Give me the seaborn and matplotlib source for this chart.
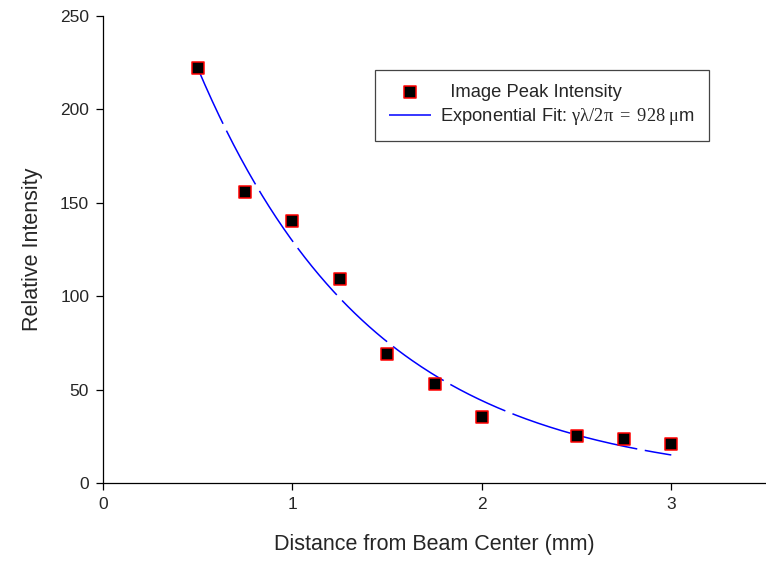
import numpy as np
import pandas as pd
import matplotlib
matplotlib.use("Agg")
import matplotlib.pyplot as plt
import seaborn as sns

# Measured peak intensity versus distance from the beam center
distance_mm = [0.5, 0.75, 1.0, 1.25, 1.5, 1.75, 2.0, 2.5, 2.75, 3.0]
intensity = [222.2, 155.8, 140.3, 109.2, 69.0, 53.0, 35.3, 25.2, 23.5, 20.9]

# Exponential fit parameters: I(x) = amplitude * exp(-x / decay_length)
fit_amplitude = 380.6
decay_length_mm = 0.928

sns.set_style("ticks")
plt.rcParams["font.family"] = ["Liberation Sans", "DejaVu Sans"]
plt.rcParams["mathtext.fontset"] = "custom"
plt.rcParams["mathtext.rm"] = "Liberation Serif"
plt.rcParams["mathtext.it"] = "Liberation Serif:italic"

fig = plt.figure(figsize=(7.66, 5.61), dpi=100)
ax = fig.add_axes([0.1345, 0.139, 0.8655, 0.8325])

fit_x = np.linspace(distance_mm[0], distance_mm[-1], 200)
fit_df = pd.DataFrame({"x": fit_x,
                       "y": fit_amplitude * np.exp(-fit_x / decay_length_mm)})
data_df = pd.DataFrame({"x": distance_mm, "y": intensity})

sns.lineplot(data=fit_df, x="x", y="y", ax=ax, color="#0000ff", linewidth=1.1,
             dashes=False,
             label=r"Exponential Fit: $\mathrm{\gamma\lambda/2\pi\ =\ 928\ \mu}$m",
             zorder=2)
ax.lines[-1].set_dashes([40, 5])
sns.scatterplot(data=data_df, x="x", y="y", ax=ax, marker="s", s=70,
                color="black", edgecolor="#ff0000", linewidth=1.1,
                label="  Image Peak Intensity", zorder=3)

ax.set_xlim(0, 3.5)
ax.set_ylim(0, 250)
ax.set_xticks([0, 1, 2, 3])
ax.set_yticks([0, 50, 100, 150, 200, 250])
ax.tick_params(axis="both", labelsize=12.5, length=5, width=0.9, color="black",
               direction="out", pad=5)
ax.spines["top"].set_visible(False)
ax.spines["right"].set_visible(False)
for s in ("left", "bottom"):
    ax.spines[s].set_linewidth(0.9)
    ax.spines[s].set_color("black")

ax.set_xlabel("Distance from Beam Center (mm)", fontsize=15.5, labelpad=16)
ax.set_ylabel("Relative Intensity", fontsize=15.5, labelpad=12)

handles, labels = ax.get_legend_handles_labels()
order = [1, 0]
leg = ax.legend([handles[i] for i in order], [labels[i] for i in order],
                loc="upper left", bbox_to_anchor=(0.410, 0.884), fontsize=13.2,
                frameon=True, fancybox=False, framealpha=1, edgecolor="#444444",
                borderpad=0.75, handlelength=2.3, handletextpad=0.5,
                labelspacing=0.3, borderaxespad=0)
leg.get_frame().set_linewidth(0.9)

fig.savefig("out.png", dpi=100)
